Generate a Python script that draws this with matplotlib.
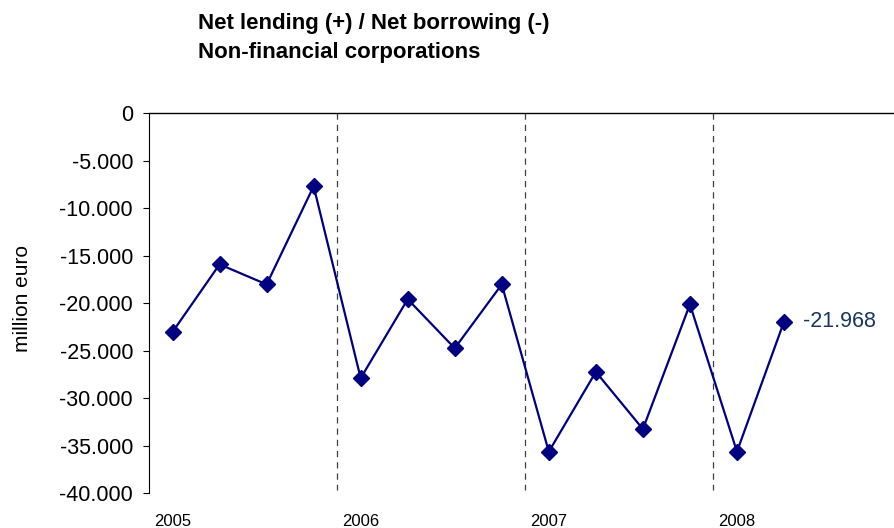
import matplotlib.pyplot as plt
from matplotlib.ticker import FuncFormatter

plt.rcParams['font.family'] = ['Liberation Sans', 'DejaVu Sans']

# quarterly values, 2005 Q1 .. 2008 Q2 (million euro)
quarters = list(range(14))
values = [-23050, -15930, -18040, -7710, -27910, -19600, -24760,
          -18040, -35650, -27250, -33270, -20140, -35650, -21968]
year_labels = ['2005', '2006', '2007', '2008']
year_pos = [0, 4, 8, 12]
year_breaks = [3.5, 7.5, 11.5]


def dotted_thousands(v, pos):
    if v == 0:
        return '0'
    return '{:,.0f}'.format(v).replace(',', '.')


fig = plt.figure(figsize=(8.95, 5.28), dpi=100)
ax = fig.add_axes([0.1665, 0.0663, 0.8335, 0.7196])

for xb in year_breaks:
    ax.plot([xb, xb], [0, -39700], color='#404040', lw=0.9,
            dashes=(5, 4), zorder=1)

ax.plot(quarters, values, color='#000080', lw=1.6, marker='D',
        markersize=8, zorder=3)

ax.annotate('-21.968', xy=(quarters[-1], values[-1]), xytext=(13.5, 0),
            textcoords='offset points', va='center', ha='left',
            fontsize=15.5, color='#17375E')

ax.set_xlim(-0.5, 15.36)
ax.set_ylim(-40000, 0)
ax.set_yticks(range(-40000, 1, 5000))
ax.yaxis.set_major_formatter(FuncFormatter(dotted_thousands))
ax.tick_params(axis='y', direction='out', length=4.5, width=0.8,
               pad=7, labelsize=15.5)
ax.set_xticks(year_pos)
ax.set_xticklabels(year_labels)
ax.tick_params(axis='x', length=0, pad=15, labelsize=12)

ax.spines['right'].set_visible(False)
ax.spines['bottom'].set_visible(False)
ax.spines['top'].set_linewidth(1.0)
ax.spines['left'].set_linewidth(0.8)

fig.text(0.025, 0.435, 'million euro', rotation=90, ha='center',
         va='center', fontsize=15)
fig.text(0.221, 0.946, 'Net lending (+) / Net borrowing (-)',
         fontsize=16, fontweight='bold', va='baseline')
fig.text(0.221, 0.891, 'Non-financial corporations',
         fontsize=16, fontweight='bold', va='baseline')

fig.savefig('out.png', dpi=100)
